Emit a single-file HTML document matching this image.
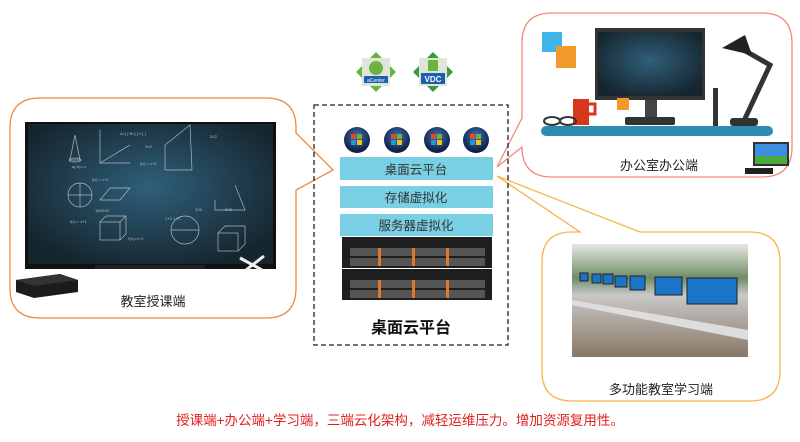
<!DOCTYPE html>
<html><head><meta charset="utf-8"><style>
body{margin:0;background:#fff;width:800px;height:437px;overflow:hidden;font-family:"Liberation Sans","Noto Sans CJK SC",sans-serif}
</style></head><body>
<svg width="800" height="437" viewBox="0 0 800 437" xmlns="http://www.w3.org/2000/svg" font-family="Liberation Sans, Noto Sans CJK SC, sans-serif">
<defs>
<radialGradient id="bb" cx="50%" cy="45%" r="60%"><stop offset="0" stop-color="#2f5f7a"/><stop offset="1" stop-color="#16262f"/></radialGradient>
<radialGradient id="orb" cx="50%" cy="35%" r="60%"><stop offset="0" stop-color="#3d6fb0"/><stop offset="1" stop-color="#0d1f45"/></radialGradient>
<linearGradient id="room" x1="0" y1="0" x2="0" y2="1"><stop offset="0" stop-color="#e8e8e6"/><stop offset="0.3" stop-color="#6f8c66"/><stop offset="0.45" stop-color="#c8c8c8"/><stop offset="1" stop-color="#8a7766"/></linearGradient>
</defs>
<!-- left bubble -->
<path d="M40,98 H266 Q296,98 296,128 V133 L333,170 L296,190 V288 Q296,318 266,318 H40 Q10,318 10,288 V128 Q10,98 40,98 Z" fill="none" stroke="#f0883a" stroke-width="1.3"/>
<rect x="25" y="122" width="251" height="147" fill="#111"/>
<rect x="28" y="124" width="245" height="140" fill="url(#bb)"/>
<g stroke="#cfd8dc" stroke-width="0.7" fill="none" opacity="0.8">
<path d="M75,135 L70,160 L80,160 Z"/><ellipse cx="75" cy="160" rx="6" ry="2"/>
<path d="M100,130 V163 H130 M100,163 L130,145"/>
<path d="M165,140 L190,120 L192,165 H165 Z" transform="translate(0,5)"/>
<circle cx="80" cy="195" r="12"/><path d="M68,195 H92 M80,183 V207"/>
<path d="M100,200 L110,188 H130 L120,200 Z"/>
<rect x="100" y="222" width="20" height="18"/><path d="M100,222 L106,216 H126 V234 L120,240 M120,222 L126,216"/>
<circle cx="185" cy="230" r="14"/><path d="M171,230 H199"/>
<rect x="218" y="233" width="20" height="18"/><path d="M218,233 L225,226 H245 V244 L238,251"/>
<path d="M215,200 V210 H245 L235,185"/>
</g>
<g fill="#cfd8dc" font-size="4" opacity="0.8">
<text x="120" y="135">A=[ ] B=[ ] I=[ ]</text><text x="145" y="148">3X2</text><text x="210" y="138">3X2</text>
<text x="72" y="168">a(-b)=-x</text><text x="92" y="181">f(x) = x+1</text><text x="140" y="165">f(x) = x+1</text>
<text x="95" y="212">180X40</text><text x="70" y="223">f(x) = x+1</text><text x="165" y="220">1+C 1+C</text>
<text x="195" y="211">3X2</text><text x="225" y="211">3X2</text><text x="128" y="240">f'(x)=x+1</text>
</g>
<rect x="95" y="265" width="110" height="4" fill="#222"/>
<path d="M240,258 L262,270 M246,270 L264,256" stroke="#eee" stroke-width="3"/>
<path d="M16,280 L60,274 L78,280 L78,292 L34,298 L16,292 Z" fill="#1c1c1c"/>
<path d="M16,280 L60,274 L78,280 L34,286 Z" fill="#333"/>
<text x="153" y="306" font-size="13" fill="#222" text-anchor="middle">教室授课端</text>

<!-- top right bubble -->
<path d="M552,13 H762 Q792,13 792,43 V147 Q792,177 762,177 H552 Q522,177 522,147 L497,167 L522,118 V43 Q522,13 552,13 Z" fill="none" stroke="#f08a7a" stroke-width="1.3"/>
<rect x="542" y="32" width="20" height="20" fill="#3db5ea"/><rect x="556" y="46" width="20" height="22" fill="#f39a2c"/>
<rect x="595" y="28" width="110" height="72" fill="#333"/><rect x="598" y="32" width="104" height="64" fill="url(#bb)"/>
<rect x="645" y="100" width="12" height="17" fill="#444"/><rect x="625" y="117" width="50" height="8" rx="2" fill="#333"/>
<rect x="573" y="99" width="16" height="26" fill="#d9361c"/><path d="M589,104 h6 v10 h-6" fill="none" stroke="#d9361c" stroke-width="3"/>
<ellipse cx="552" cy="121" rx="8" ry="4" fill="none" stroke="#333" stroke-width="2"/><ellipse cx="568" cy="121" rx="8" ry="4" fill="none" stroke="#333" stroke-width="2"/>
<rect x="617" y="98" width="12" height="12" fill="#f39a2c"/>
<rect x="713" y="88" width="5" height="38" fill="#333"/>
<path d="M742,125 L770,65 L735,45" stroke="#333" stroke-width="5" fill="none"/><path d="M722,48 L745,35 L752,55 Z" fill="#222"/>
<rect x="730" y="118" width="28" height="8" rx="3" fill="#333"/>
<rect x="541" y="126" width="232" height="10" rx="5" fill="#2d8db0"/>
<rect x="753" y="142" width="36" height="24" fill="#333"/><rect x="755" y="144" width="32" height="20" fill="#3d8ee0"/><rect x="755" y="156" width="32" height="8" fill="#4caa3c"/>
<rect x="745" y="168" width="28" height="6" fill="#222"/>
<text x="659" y="170" font-size="13" fill="#222" text-anchor="middle">办公室办公端</text>

<!-- bottom right bubble -->
<path d="M572,232 H580 L497,176 L640,232 H750 Q780,232 780,262 V371 Q780,401 750,401 H572 Q542,401 542,371 V262 Q542,232 572,232 Z" fill="none" stroke="#f7b547" stroke-width="1.3"/>
<rect x="572" y="244" width="176" height="113" fill="url(#room)"/>
<g fill="#1a75c8" stroke="#222" stroke-width="1"><rect x="580" y="273" width="8" height="8"/><rect x="592" y="274" width="9" height="9"/><rect x="603" y="274" width="10" height="10"/><rect x="615" y="276" width="12" height="11"/><rect x="630" y="276" width="15" height="14"/><rect x="655" y="277" width="27" height="18"/><rect x="687" y="278" width="50" height="26"/></g>
<path d="M572,300 L748,330 L748,340 L572,305 Z" fill="#ddd"/>
<text x="661" y="394" font-size="13" fill="#222" text-anchor="middle">多功能教室学习端</text>

<!-- dashed box -->
<rect x="314" y="105" width="194" height="240" fill="none" stroke="#222" stroke-width="1.3" stroke-dasharray="5,3"/>
<!-- top icons -->
<g><path d="M376,52 L396,72 L376,92 L356,72 Z" fill="#6db33f"/><rect x="362" y="58" width="28" height="28" fill="#dfe6d8"/><circle cx="376" cy="68" r="7" fill="#6db33f"/><rect x="364" y="76" width="24" height="7" fill="#1a5fb0"/><text x="376" y="82" font-size="5" fill="#fff" text-anchor="middle">aCenter</text></g>
<g><path d="M433,52 L453,72 L433,92 L413,72 Z" fill="#3c9a3a"/><rect x="419" y="58" width="28" height="28" fill="#dfe6d8"/><rect x="428" y="60" width="10" height="11" fill="#6db33f"/><rect x="421" y="73" width="24" height="11" fill="#1a5fb0"/><text x="433" y="82" font-size="8" font-weight="bold" fill="#fff" text-anchor="middle">VDC</text></g>
<!-- orbs -->
<g>
<circle cx="357" cy="140" r="13" fill="url(#orb)"/><circle cx="397" cy="140" r="13" fill="url(#orb)"/><circle cx="437" cy="140" r="13" fill="url(#orb)"/><circle cx="476" cy="140" r="13" fill="url(#orb)"/>
<g id="w"><rect x="351" y="134" width="5" height="5" fill="#e84c1e"/><rect x="357" y="134" width="5" height="5" fill="#6cb33f"/><rect x="351" y="140" width="5" height="5" fill="#1c9ce0"/><rect x="357" y="140" width="5" height="5" fill="#f8c01c"/></g>
<use href="#w" x="40"/><use href="#w" x="80"/><use href="#w" x="119"/>
</g>
<rect x="340" y="157" width="153" height="23" rx="1" fill="#79cfe3"/>
<rect x="340" y="186" width="153" height="22" rx="1" fill="#79cfe3"/>
<rect x="340" y="214" width="153" height="22" rx="1" fill="#79cfe3"/>
<text x="416" y="174" font-size="12.5" fill="#333" text-anchor="middle">桌面云平台</text>
<text x="416" y="202" font-size="12.5" fill="#333" text-anchor="middle">存储虚拟化</text>
<text x="416" y="230" font-size="12.5" fill="#333" text-anchor="middle">服务器虚拟化</text>
<!-- servers -->
<g>
<rect x="342" y="237" width="150" height="31" fill="#1e1e1e"/><rect x="342" y="269" width="150" height="31" fill="#1e1e1e"/>
<g fill="#555"><rect x="350" y="248" width="135" height="8"/><rect x="350" y="258" width="135" height="8"/><rect x="350" y="280" width="135" height="8"/><rect x="350" y="290" width="135" height="8"/></g>
<g fill="#e0782a"><rect x="378" y="248" width="3" height="18"/><rect x="412" y="248" width="3" height="18"/><rect x="446" y="248" width="3" height="18"/><rect x="378" y="280" width="3" height="18"/><rect x="412" y="280" width="3" height="18"/><rect x="446" y="280" width="3" height="18"/></g>
</g>
<text x="411" y="333" font-size="16" font-weight="bold" fill="#111" text-anchor="middle">桌面云平台</text>
<text x="400" y="425" font-size="13.5" fill="#e02020" text-anchor="middle">授课端+办公端+学习端，三端云化架构，减轻运维压力。增加资源复用性。</text>
</svg>
</body></html>
